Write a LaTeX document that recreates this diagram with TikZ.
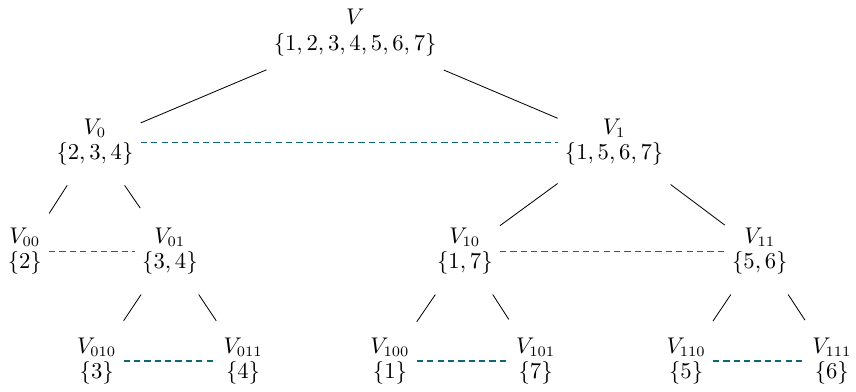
\documentclass[tikz,border=0pt]{standalone}
\definecolor{splitteal}{RGB}{16,102,114}
\begin{document}
\begin{tikzpicture}[part/.style={align=center, minimum height=1.45cm, font=\fontsize{10.6}{12.3}\selectfont}, split/.style={densely dashed, semithick, splitteal}]
  \useasboundingbox (0, 0) rectangle (14.51, -6.63);
  % Nodes
  \node (V) [part] at (6.02, -0.55) {$V$\\$\{1,2,3,4,5,6,7\}$};
  \node (V0) [part] at (1.61, -2.41) {$V_0$\\$\{2,3,4\}$};
  \node (V1) [part] at (10.41, -2.41) {$V_1$\\$\{1,5,6,7\}$};
  \node (V00) [part] at (0.42, -4.26) {$V_{00}$\\$\{2\}$};
  \node (V01) [part] at (2.88, -4.26) {$V_{01}$\\$\{3,4\}$};
  \node (V10) [part] at (7.88, -4.26) {$V_{10}$\\$\{1,7\}$};
  \node (V11) [part] at (12.88, -4.26) {$V_{11}$\\$\{5,6\}$};
  \node (V010) [part] at (1.64, -6.12) {$V_{010}$\\$\{3\}$};
  \node (V011) [part] at (4.12, -6.12) {$V_{011}$\\$\{4\}$};
  \node (V100) [part] at (6.61, -6.12) {$V_{100}$\\$\{1\}$};
  \node (V101) [part] at (9.08, -6.12) {$V_{101}$\\$\{7\}$};
  \node (V110) [part] at (11.63, -6.12) {$V_{110}$\\$\{5\}$};
  \node (V111) [part] at (14.10, -6.12) {$V_{111}$\\$\{6\}$};
  % Tree edges
  \draw (V) -- (V0);
  \draw (V) -- (V1);
  \draw (V0) -- (V00);
  \draw (V0) -- (V01);
  \draw (V1) -- (V10);
  \draw (V1) -- (V11);
  \draw (V01) -- (V010);
  \draw (V01) -- (V011);
  \draw (V10) -- (V100);
  \draw (V10) -- (V101);
  \draw (V11) -- (V110);
  \draw (V11) -- (V111);
  % Dashed lines
  \draw[split] (V0) -- (V1);
  \draw[split] (V00) -- (V01);
  \draw[split] (V10) -- (V11);
  \draw[split] (V010) -- (V011);
  \draw[split] (V100) -- (V101);
  \draw[split] (V110) -- (V111);
\end{tikzpicture}
\end{document}
